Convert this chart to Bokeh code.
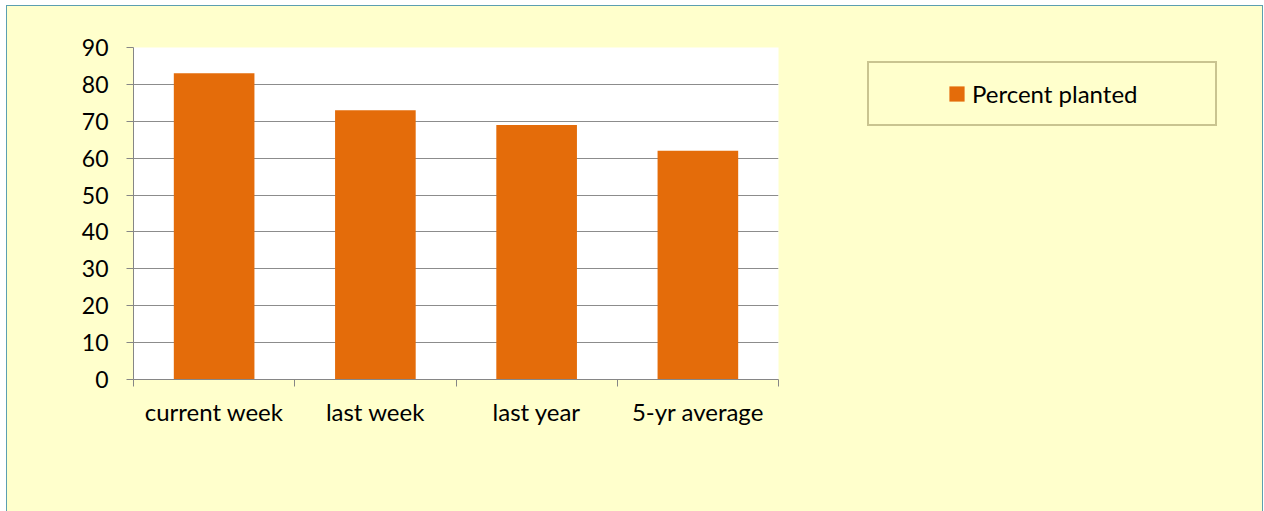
from bokeh.plotting import figure
from bokeh.layouts import row
from bokeh.models import Range1d, FixedTicker, Legend, LegendItem, ColumnDataSource
from bokeh.embed import file_html
from bokeh.resources import INLINE

categories = ["current week", "last week", "last year", "5-yr average"]
percent_planted = [83, 73, 69, 62]
y_ticks = [0, 10, 20, 30, 40, 50, 60, 70, 80, 90]
series_name = "Percent planted"

FONT = "Lato"
BG = "#FFFFCC"
BAR = "#E46C0A"

centers = [i + 0.5 for i in range(len(categories))]
src = ColumnDataSource(dict(x=centers, top=percent_planted, cat=categories))

p = figure(width=801, height=505, output_backend="svg", toolbar_location=None,
           x_range=Range1d(0, len(categories)), y_range=Range1d(0, 90),
           min_border_left=126, min_border_top=41, min_border_bottom=132, min_border_right=30)
p.background_fill_color = "white"
p.border_fill_color = BG
p.outline_line_color = None

p.vbar(x="x", top="top", width=0.5, source=src, fill_color=BAR, line_color=None)

xa = p.xaxis[0]
xa.ticker = FixedTicker(ticks=centers, minor_ticks=list(range(len(categories) + 1)))
xa.major_label_overrides = {c: lab for c, lab in zip(centers, categories)}
xa.major_tick_out = 0
xa.major_tick_in = 0
xa.minor_tick_out = 7
xa.minor_tick_in = 0
xa.minor_tick_line_color = "#868686"
xa.axis_line_color = "#868686"
xa.major_label_text_font = FONT
xa.major_label_text_font_size = "24px"
xa.major_label_text_color = "black"
xa.major_label_standoff = 10

ya = p.yaxis[0]
ya.ticker = FixedTicker(ticks=y_ticks)
ya.major_tick_out = 7
ya.major_tick_in = 0
ya.minor_tick_out = 0
ya.minor_tick_in = 0
ya.major_tick_line_color = "#868686"
ya.axis_line_color = "#868686"
ya.major_label_text_font = FONT
ya.major_label_text_font_size = "23px"
ya.major_label_text_color = "black"
ya.major_label_standoff = 18

p.xgrid.visible = False
p.ygrid[0].ticker = FixedTicker(ticks=y_ticks)
p.ygrid.grid_line_color = "#8c8c8c"
p.ygrid.grid_line_width = 1

# legend panel (right-hand side of the same chart area); its ranges keep the
# series out of view so that it only supplies the legend swatch
p2 = figure(width=454, height=505, output_backend="svg", toolbar_location=None,
            x_range=Range1d(-2, -1), y_range=Range1d(0, 90),
            x_axis_type=None, y_axis_type=None,
            min_border_left=0, min_border_right=0, min_border_top=0, min_border_bottom=0)
p2.background_fill_color = BG
p2.border_fill_color = BG
p2.outline_line_color = None
p2.grid.visible = False
swatch = p2.vbar(x="x", top="top", width=0.5, source=src, fill_color=BAR, line_color=None)

legend = Legend(items=[LegendItem(label=series_name, renderers=[swatch])],
                location=(59, 253), padding=16, spacing=0, margin=0,
                title=" ", title_location="left", title_standoff=35,
                title_text_font=FONT, title_text_font_size="22px",
                glyph_width=19, glyph_height=19, label_standoff=6, label_width=227,
                label_text_font=FONT, label_text_font_size="24px", label_text_color="black",
                border_line_color="#948A54", border_line_width=2,
                background_fill_color=BG, background_fill_alpha=1)
p2.add_layout(legend, "center")

layout = row(p, p2, spacing=0)
layout.styles = {"margin-left": "6px", "margin-top": "5px",
                 "border-left": "1px solid #5b9fb0", "border-top": "1px solid #5b9fb0",
                 "border-right": "1px solid #5b9fb0", "background-color": BG}

open("out.html", "w").write(file_html(layout, INLINE))
